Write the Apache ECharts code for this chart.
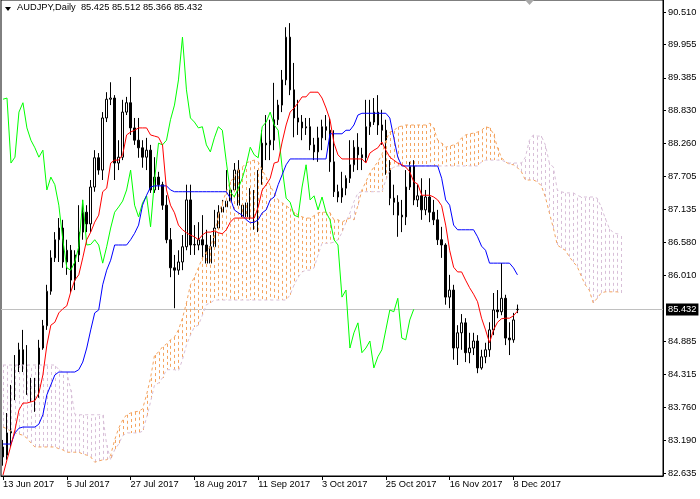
<!DOCTYPE html>
<html><head><meta charset="utf-8">
<script src="https://cdn.jsdelivr.net/npm/echarts@6/dist/echarts.min.js"></script>
<style>html,body{margin:0;padding:0;background:#fff;}#chart{width:700px;height:499px;}</style>
</head><body><div id="chart"></div>
<script>
const symbolName = 'AUDJPY,Daily';
const startDate = [2017, 5, 13];
const totalBars = 166;
const shift = 26;
const monthNames = ['Jan','Feb','Mar','Apr','May','Jun','Jul','Aug','Sep','Oct','Nov','Dec'];

const open = [83.08,82.94,83.32,83.97,84.45,84.74,84.45,84.05,84.10,84.00,
84.77,85.15,85.74,86.31,86.62,86.82,86.24,86.44,85.93,86.36,
86.75,87.09,86.89,87.52,88.02,87.81,88.70,89.02,89.04,87.93,
88.03,88.80,88.96,88.53,88.32,88.19,88.03,88.15,87.47,87.69,
87.56,87.21,86.62,86.14,86.10,86.24,86.50,87.30,86.53,86.53,
86.62,86.53,86.22,86.50,86.82,87.09,87.18,87.28,87.47,87.81,
87.21,87.01,87.25,87.37,86.84,87.64,88.27,88.24,88.32,88.67,
88.92,89.35,90.08,89.18,88.70,88.63,88.53,88.55,88.24,88.12,
88.36,88.55,88.49,87.95,87.44,87.35,87.50,87.67,87.90,88.20,
88.07,88.02,88.55,88.63,88.80,88.58,88.49,87.85,87.33,87.26,
87.04,87.01,87.52,87.90,87.30,87.37,87.13,87.35,87.09,86.96,
86.62,86.53,85.64,85.76,84.77,85.03,85.20,84.69,84.77,84.89,
84.43,84.62,84.74,85.08,85.42,85.39,85.62,84.94,84.91,85.425];
const high = [83.20,83.66,84.14,84.65,84.86,85.08,84.82,84.26,84.26,84.91,
85.25,85.85,86.44,86.75,86.99,86.96,86.62,86.53,86.44,87.21,
87.30,87.21,87.64,88.15,88.10,88.80,89.14,89.31,89.09,88.32,
89.01,89.06,89.40,88.70,88.70,88.32,88.36,88.24,88.03,87.78,
87.61,87.38,86.82,86.36,86.44,86.70,87.56,87.56,86.87,86.92,
87.04,86.79,86.70,87.13,87.21,87.30,87.81,87.56,87.93,87.98,
87.47,87.38,87.50,87.47,87.81,88.49,88.75,88.67,89.30,89.01,
89.52,90.25,90.32,89.64,89.01,88.75,88.70,88.70,88.36,88.55,
88.67,88.75,88.70,88.49,87.56,87.78,87.72,88.32,88.32,88.44,
88.19,89.01,89.01,89.04,89.09,88.84,88.67,87.98,87.56,87.38,
87.30,87.81,87.95,87.98,87.56,87.67,87.47,87.67,87.30,87.13,
86.84,86.56,86.02,85.85,85.16,85.35,85.28,85.03,85.03,84.99,
84.74,84.86,85.21,85.71,85.76,86.22,85.68,85.21,85.37,85.512];
const low = [82.76,82.86,83.08,83.88,84.36,84.36,83.97,83.85,83.68,83.92,
84.74,85.08,85.68,86.24,86.24,86.14,86.02,85.71,85.76,86.24,
86.62,86.75,86.75,87.44,87.73,87.64,88.63,88.92,87.64,87.81,
87.98,88.75,88.41,88.24,88.02,87.85,87.81,87.42,87.42,87.47,
87.13,86.56,85.98,85.45,86.02,86.10,86.44,86.36,86.36,86.44,
86.24,85.90,86.02,86.44,86.53,86.92,87.04,87.08,87.38,87.04,
86.79,86.87,86.96,86.79,86.75,87.56,87.98,87.98,88.15,88.58,
88.80,89.26,89.09,88.37,88.41,88.32,88.41,88.15,87.98,87.95,
88.15,88.32,87.78,87.35,87.26,87.25,87.38,87.59,87.78,87.81,
87.81,87.95,88.41,88.58,88.41,88.24,87.73,87.21,87.04,86.67,
86.75,86.87,87.47,87.21,87.18,86.96,87.04,86.92,86.87,86.53,
86.31,85.51,85.45,84.57,84.48,84.74,84.53,84.51,84.65,84.34,
84.40,84.51,84.62,84.99,85.28,85.33,84.82,84.65,84.86,85.366];
const close = [82.91,83.32,83.97,84.45,84.74,84.45,84.05,84.10,83.97,84.77,
85.15,85.74,86.31,86.62,86.82,86.24,86.44,85.93,86.36,86.75,
87.09,86.89,87.52,88.02,87.81,88.70,89.02,89.04,87.93,88.03,
88.80,88.96,88.53,88.32,88.19,88.03,88.15,87.47,87.69,87.56,
87.21,86.62,86.14,86.10,86.24,86.50,87.30,86.53,86.54,86.62,
86.53,86.22,86.50,86.82,87.09,87.18,87.28,87.47,87.81,87.21,
87.01,87.25,87.37,86.84,87.64,88.27,88.24,88.32,88.67,88.92,
89.35,90.08,89.18,88.70,88.63,88.53,88.55,88.24,88.12,88.36,
88.55,88.49,87.95,87.44,87.35,87.50,87.67,87.90,88.20,88.07,
88.02,88.55,88.63,88.80,88.58,88.49,87.85,87.33,87.26,87.04,
87.01,87.52,87.90,87.30,87.37,87.13,87.35,87.09,86.96,86.62,
86.53,85.64,85.76,84.77,85.03,85.20,84.69,84.77,84.89,84.43,
84.62,84.74,85.08,85.42,85.39,85.62,84.94,84.91,85.25,85.432];

const tenkan = [82.60,82.86,83.11,83.37,83.71,83.83,83.83,83.85,83.87,84.00,
84.31,84.82,85.16,85.21,85.37,85.44,85.49,85.73,85.93,86.02,
86.31,86.62,86.75,86.92,87.04,87.44,87.50,87.93,87.98,87.98,
88.07,88.41,88.46,88.49,88.53,88.53,88.53,88.41,88.39,88.37,
88.24,87.47,87.21,87.08,86.87,86.79,86.74,86.70,86.67,86.62,
86.70,86.75,86.75,86.77,86.74,86.72,86.79,86.92,86.99,86.99,
86.99,86.99,86.99,86.99,87.18,87.47,87.56,87.67,87.93,87.95,
88.29,88.58,88.80,88.87,88.96,89.06,89.06,89.14,89.14,89.14,
89.04,88.87,88.67,88.27,88.07,88.00,88.00,88.00,88.00,88.00,
88.00,87.93,88.10,88.15,88.19,88.29,88.15,88.03,87.98,87.93,
87.90,87.86,87.78,87.61,87.57,87.38,87.38,87.38,87.35,87.30,
87.20,86.87,86.44,86.15,86.07,86.07,85.93,85.80,85.69,85.56,
85.28,85.08,84.86,85.08,85.21,85.27,85.28,85.28,85.32,85.40];
const kijun = [83.13,83.13,83.13,83.32,83.40,83.42,83.42,83.42,83.42,83.47,
83.63,83.97,84.14,84.31,84.36,84.36,84.36,84.36,84.36,84.40,
84.53,84.77,85.08,85.37,85.42,85.85,86.10,86.27,86.53,86.53,
86.53,86.53,86.62,86.73,86.87,87.21,87.38,87.52,87.54,87.54,
87.54,87.54,87.47,87.44,87.44,87.44,87.44,87.44,87.44,87.44,
87.44,87.44,87.44,87.44,87.44,87.44,87.44,87.33,87.13,87.08,
87.04,86.96,86.91,86.92,86.96,87.08,87.13,87.30,87.35,87.56,
87.73,87.90,88.00,88.00,88.00,88.00,88.00,88.00,88.00,88.00,
88.00,88.00,88.43,88.43,88.43,88.43,88.49,88.49,88.58,88.75,
88.78,88.78,88.78,88.78,88.78,88.78,88.78,88.70,88.36,88.03,
87.88,87.88,87.88,87.88,87.88,87.88,87.88,87.88,87.88,87.88,
87.67,87.30,87.21,86.87,86.79,86.79,86.79,86.79,86.79,86.67,
86.51,86.44,86.22,86.22,86.22,86.22,86.22,86.22,86.14,86.02];
const spanA = [83.42,83.39,83.35,83.32,83.30,83.28,83.23,83.15,83.08,83.08,
83.08,83.08,83.08,83.08,83.05,83.03,82.99,82.99,82.99,82.99,
82.96,82.94,82.91,82.82,82.84,82.86,82.86,82.94,83.20,83.40,
83.54,83.63,83.66,83.68,83.69,83.73,83.97,84.26,84.65,84.70,
84.79,84.84,84.91,84.96,85.08,85.28,85.54,85.85,85.98,86.14,
86.31,86.41,86.50,86.70,87.04,87.25,87.44,87.61,87.69,87.81,
87.86,87.93,87.96,87.98,87.95,87.81,87.69,87.54,87.42,87.30,
87.25,87.20,87.15,87.09,87.04,87.01,86.99,86.99,87.03,87.08,
87.09,87.09,87.08,86.96,86.96,86.92,86.96,86.99,86.96,87.21,
87.47,87.61,87.76,87.86,87.95,88.07,88.32,88.46,88.48,88.55,
88.56,88.58,88.58,88.58,88.58,88.58,88.58,88.61,88.53,88.32,
88.27,88.20,88.22,88.24,88.27,88.36,88.41,88.43,88.44,88.46,
88.49,88.55,88.53,88.43,88.19,88.02,87.95,87.91,87.90,87.85,
87.78,87.64,87.64,87.64,87.61,87.54,87.35,87.08,86.82,86.53,
86.48,86.44,86.33,86.24,86.16,86.00,85.85,85.76,85.54,85.62,
85.71,85.73,85.73,85.73,85.73,85.71];
const spanB = [84.48,84.48,84.48,84.48,84.48,84.48,84.48,84.48,84.48,84.48,
84.48,84.48,84.48,84.48,84.40,84.36,84.36,84.05,83.64,83.63,
83.63,83.63,83.63,83.63,83.63,83.63,83.11,82.86,83.03,83.13,
83.27,83.32,83.32,83.32,83.32,83.35,83.58,83.85,84.14,84.17,
84.26,84.40,84.40,84.40,84.38,84.57,84.82,84.99,85.13,85.16,
85.33,85.51,85.54,85.59,85.59,85.59,85.59,85.59,85.59,85.59,
85.59,85.59,85.59,85.59,85.59,85.59,85.59,85.59,85.59,85.59,
85.59,85.59,85.68,85.85,85.98,86.07,86.10,86.10,86.14,86.36,
86.56,86.56,86.56,86.58,86.62,86.74,86.92,87.08,87.27,87.42,
87.44,87.44,87.44,87.44,87.44,87.44,87.64,87.81,87.86,87.88,
87.88,87.88,87.88,87.88,87.88,87.88,87.88,87.88,87.88,87.88,
87.88,87.88,87.88,87.88,87.88,87.88,87.88,87.88,87.88,87.88,
87.95,87.98,87.98,87.98,87.98,87.98,87.95,87.93,87.93,87.93,
87.93,88.03,88.32,88.41,88.39,88.39,88.24,87.93,87.86,87.47,
87.44,87.42,87.42,87.42,87.38,87.35,87.35,87.35,87.35,87.33,
87.18,86.99,86.82,86.74,86.72,86.72];

const yTicks = [82.635,83.190,83.760,84.315,84.885,86.010,86.580,87.135,87.705,88.260,88.830,89.385,89.955,90.510];
const yMin = 82.584, yMax = 90.715;
const currentPrice = 85.432;

// trading-day categories
const dates = [];
const d = new Date(Date.UTC(startDate[0], startDate[1], startDate[2]));
while (dates.length < totalBars) {
  const wd = d.getUTCDay();
  if (wd !== 0 && wd !== 6) dates.push(d.getUTCDate() + ' ' + monthNames[d.getUTCMonth()] + ' ' + d.getUTCFullYear());
  d.setUTCDate(d.getUTCDate() + 1);
}

const candleData = open.map((o, i) => [o, close[i], low[i], high[i]]);
const chikou = close.slice(shift);
const cloudData = spanA.map((a, i) => [i, a, spanB[i]]);
const nBars = close.length;
const FONT = "Tahoma, 'Liberation Sans', Arial, sans-serif";
const labelEvery = (idx) => idx % 16 === 0 && idx < nBars;
const DOT = [3, 3];

const last = nBars - 1;
const headerText = symbolName + '  ' + [open[last], high[last], low[last], close[last]].map(v => v.toFixed(3)).join(' ');

const chart = echarts.init(document.getElementById('chart'), null, {renderer: 'canvas'});
chart.setOption({
  animation: false,
  backgroundColor: '#fff',
  grid: {left: 0, top: 0, right: 37, bottom: 23, show: true, borderColor: '#000', borderWidth: 1},
  xAxis: {
    type: 'category', data: dates, boundaryGap: true,
    axisLine: {show: true, lineStyle: {color: '#000', width: 1}},
    axisTick: {show: true, interval: labelEvery, alignWithLabel: true, length: 4, lineStyle: {color: '#000'}},
    axisLabel: {show: true, interval: labelEvery, align: 'left', color: '#000', fontSize: 9.3, fontFamily: FONT, margin: 4},
    splitLine: {show: false}
  },
  yAxis: {
    type: 'value', position: 'right', min: yMin, max: yMax, scale: true,
    axisLine: {show: true, lineStyle: {color: '#000', width: 1}},
    axisTick: {show: true, customValues: yTicks, length: 3, lineStyle: {color: '#000'}},
    axisLabel: {show: true, customValues: yTicks, formatter: v => v.toFixed(3), color: '#000', fontSize: 9.3, fontFamily: FONT, margin: 5},
    splitLine: {show: false}
  },
  graphic: [
    {type: 'polygon', shape: {points: [[5, 7], [11, 7], [8, 11]]}, style: {fill: '#000'}},
    {type: 'text', left: 17, top: 3, style: {text: headerText, fill: '#000', font: '9.3px ' + FONT}},
    {type: 'polygon', shape: {points: [[525, 0], [534, 0], [529.5, 5]]}, style: {fill: '#A8A8A8'}}
  ],
  series: [
    {
      type: 'candlestick', name: 'price', data: candleData, barWidth: 2, z: 2,
      itemStyle: {color: '#fff', color0: '#000', borderColor: '#000', borderColor0: '#000', borderWidth: 1},
      markLine: {
        silent: true, symbol: ['none', 'none'], z: 1,
        data: [{yAxis: currentPrice}],
        lineStyle: {color: '#C0C0C0', type: 'solid', width: 1},
        label: {show: true, position: 'end', formatter: currentPrice.toFixed(3), color: '#fff', backgroundColor: '#000',
          padding: [2, 2, 1, 2], fontSize: 9.3, fontFamily: FONT, distance: 3}
      }
    },
    {
      type: 'custom', name: 'kumo', data: cloudData, z: 3, encode: {x: 0, y: [1, 2]},
      renderItem: (params, api) => {
        const i = api.value(0), a = api.value(1), b = api.value(2);
        const p1 = api.coord([i, a]), p2 = api.coord([i, b]);
        const x = Math.round(p1[0]) + 0.5;
        const color = a >= b ? '#F4A460' : '#D8BFD8';
        return {type: 'group', children: [
          {type: 'line', shape: {x1: x, y1: p1[1], x2: x, y2: p2[1]}, style: {stroke: '#fff', lineWidth: 1}},
          {type: 'line', shape: {x1: x, y1: p1[1], x2: x, y2: p2[1]}, style: {stroke: color, lineWidth: 1, lineDash: DOT}}
        ]};
      }
    },
    {type: 'line', name: 'Senkou A', data: spanA, showSymbol: false, z: 4, lineStyle: {color: '#F4A460', width: 1, type: DOT}},
    {type: 'line', name: 'Senkou B', data: spanB, showSymbol: false, z: 4, lineStyle: {color: '#D8BFD8', width: 1, type: DOT}},
    {type: 'line', name: 'Chikou', data: chikou, showSymbol: false, z: 5, lineStyle: {color: '#00FF00', width: 1}},
    {type: 'line', name: 'Kijun', data: kijun, showSymbol: false, z: 5, lineStyle: {color: '#0000FF', width: 1}},
    {type: 'line', name: 'Tenkan', data: tenkan, showSymbol: false, z: 5, lineStyle: {color: '#FF0000', width: 1}}
  ]
});
</script></body></html>
